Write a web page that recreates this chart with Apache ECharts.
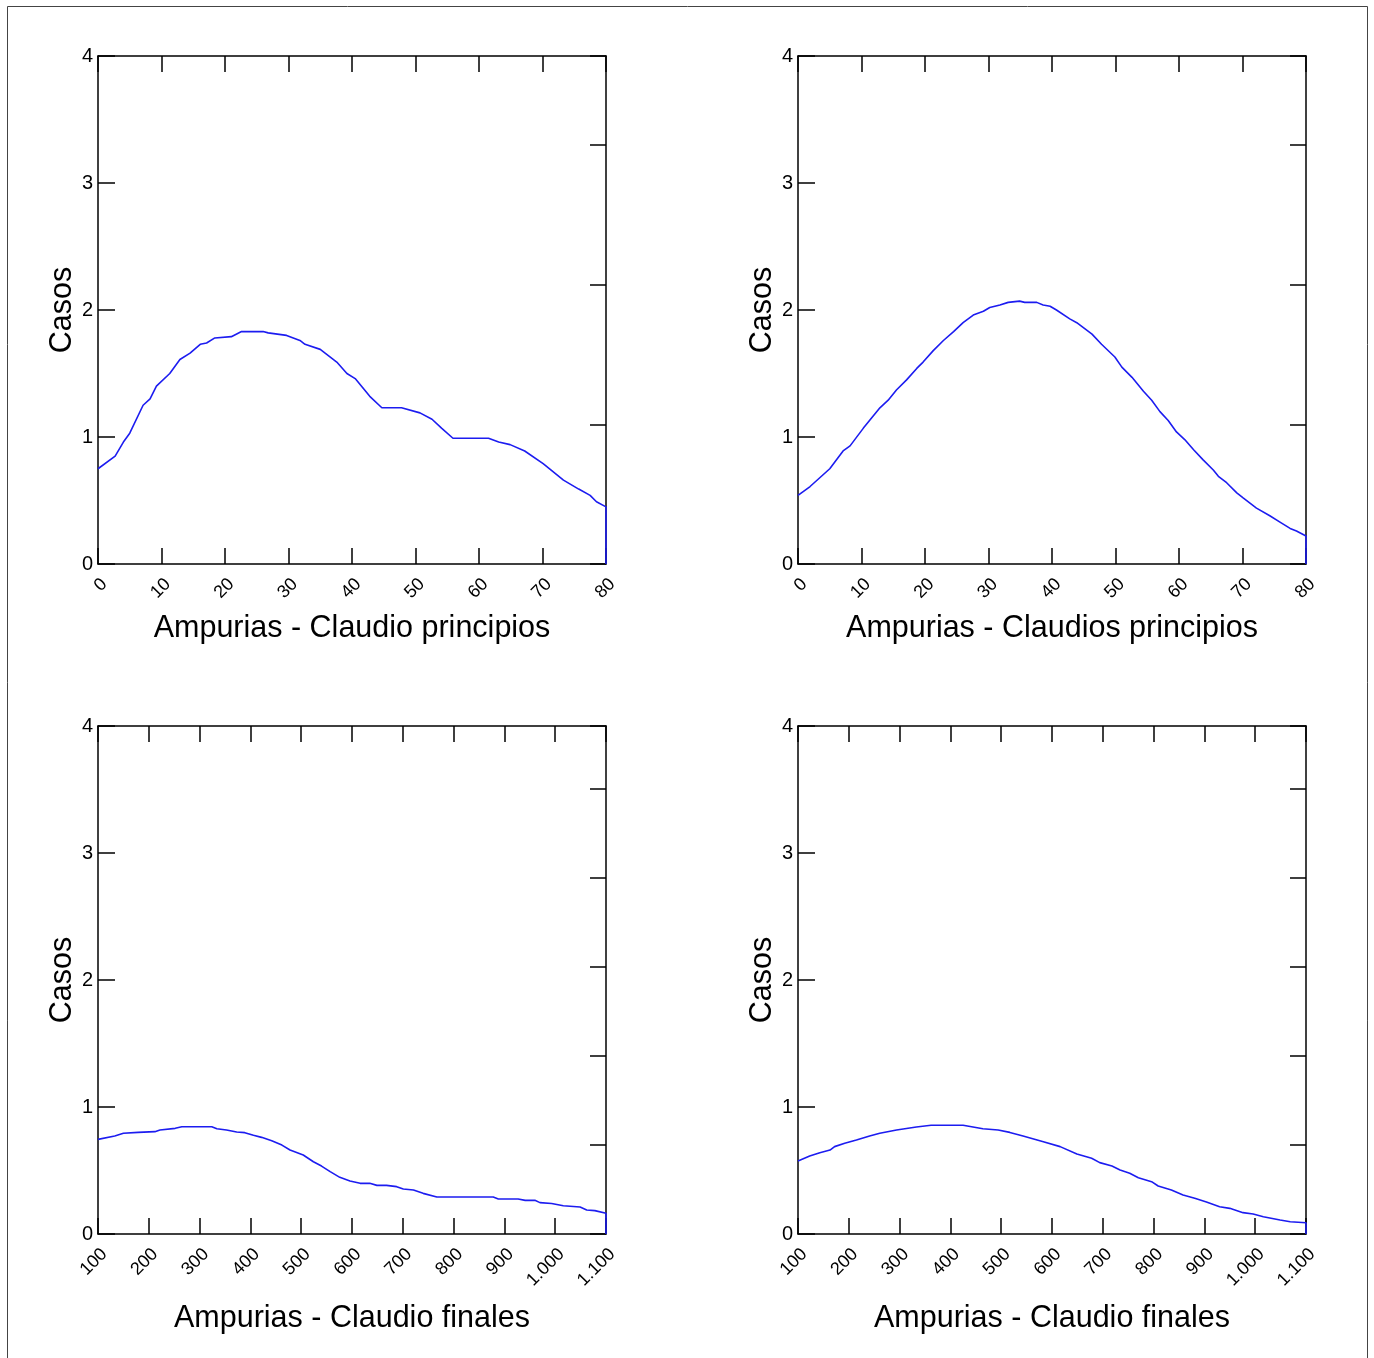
<!DOCTYPE html>
<html>
<head>
<meta charset="utf-8">
<script src="https://cdn.jsdelivr.net/npm/echarts@6/dist/echarts.min.js"></script>
<style>
html,body{margin:0;padding:0;background:#fff;}
#chart{width:1374px;height:1358px;}
</style>
</head>
<body>
<div id="chart"></div>
<script>
// ---- Data ----
const titles = ['Ampurias - Claudio principios', 'Ampurias - Claudios principios', 'Ampurias - Claudio finales', 'Ampurias - Claudio finales'];
const yName = 'Casos';

const topTicks = ['0','10','20','30','40','50','60','70','80'];
const bottomTicks = ['100','200','300','400','500','600','700','800','900','1.000','1.100'];

const tlX = [0, 2.7, 4.0, 5.0, 7.1, 8.2, 9.2, 11.3, 12.9, 14.5, 16.1, 17.1, 18.4, 21.0, 22.6, 26.0, 26.8, 29.7, 31.8, 32.6, 35.0, 37.6, 39.2, 40.5, 42.8, 44.7, 47.8, 50.7, 52.6, 54.1, 55.9, 61.5, 63.1, 64.9, 67.2, 70.1, 73.3, 75.7, 77.5, 78.5, 80, 80];
const tlY = [0.75, 0.85, 0.96, 1.03, 1.25, 1.30, 1.40, 1.50, 1.61, 1.66, 1.73, 1.74, 1.78, 1.79, 1.83, 1.83, 1.82, 1.80, 1.76, 1.73, 1.69, 1.59, 1.50, 1.46, 1.32, 1.23, 1.23, 1.19, 1.14, 1.07, 0.99, 0.99, 0.96, 0.94, 0.89, 0.79, 0.66, 0.59, 0.54, 0.49, 0.45, 0];

const trX = [0, 1.9, 5.0, 7.1, 8.2, 10.3, 12.9, 14.2, 15.5, 17.1, 18.7, 19.7, 21.3, 22.9, 24.5, 26.0, 27.6, 29.2, 30.2, 31.8, 33.1, 34.9, 35.7, 37.6, 38.6, 39.7, 40.7, 42.8, 43.9, 46.3, 47.8, 49.9, 51.0, 52.6, 54.4, 55.7, 57.0, 58.3, 59.6, 60.9, 62.3, 63.8, 65.4, 66.2, 67.5, 69.1, 70.1, 72.2, 74.3, 75.9, 77.5, 78.5, 80, 80];
const trY = [0.54, 0.61, 0.75, 0.89, 0.93, 1.07, 1.23, 1.29, 1.37, 1.45, 1.54, 1.59, 1.68, 1.76, 1.83, 1.90, 1.96, 1.99, 2.02, 2.04, 2.06, 2.07, 2.06, 2.06, 2.04, 2.03, 2.00, 1.93, 1.90, 1.81, 1.73, 1.63, 1.55, 1.47, 1.36, 1.29, 1.20, 1.13, 1.04, 0.98, 0.90, 0.82, 0.74, 0.69, 0.64, 0.56, 0.52, 0.44, 0.38, 0.33, 0.28, 0.26, 0.22, 0];

const blX = [100, 133, 150, 179, 212, 222, 252, 265, 324, 334, 353, 373, 389, 406, 422, 442, 462, 478, 504, 524, 540, 557, 576, 596, 616, 635, 649, 668, 688, 701, 721, 740, 767, 878, 888, 927, 941, 960, 970, 993, 1016, 1049, 1062, 1078, 1100, 1100];
const blY = [0.745, 0.772, 0.793, 0.80, 0.806, 0.819, 0.832, 0.845, 0.845, 0.829, 0.819, 0.803, 0.798, 0.777, 0.761, 0.735, 0.70, 0.661, 0.622, 0.569, 0.535, 0.491, 0.446, 0.417, 0.399, 0.399, 0.383, 0.383, 0.373, 0.354, 0.346, 0.32, 0.291, 0.291, 0.276, 0.276, 0.265, 0.265, 0.247, 0.24, 0.223, 0.213, 0.189, 0.184, 0.163, 0];

const brX = [100, 123, 143, 163, 172, 192, 215, 241, 261, 294, 333, 362, 425, 464, 494, 517, 543, 583, 616, 649, 678, 694, 718, 734, 753, 770, 796, 809, 835, 858, 881, 904, 930, 950, 976, 996, 1016, 1049, 1069, 1100, 1100];
const brY = [0.575, 0.614, 0.64, 0.661, 0.688, 0.714, 0.74, 0.772, 0.793, 0.819, 0.843, 0.856, 0.856, 0.829, 0.819, 0.80, 0.772, 0.727, 0.688, 0.63, 0.596, 0.562, 0.535, 0.504, 0.478, 0.443, 0.412, 0.378, 0.346, 0.307, 0.281, 0.252, 0.215, 0.202, 0.168, 0.157, 0.136, 0.11, 0.097, 0.089, 0];

// ---- Build option ----
const FONT = '"Liberation Sans", Arial, Helvetica, sans-serif';
const AX = {onZero: false, lineStyle: {color: '#000', width: 1.5}};
const TICK = {inside: true, length: 16, lineStyle: {color: '#000', width: 1.5}};
const grids = [
  {left: 98, top: 56, width: 508, height: 508},
  {left: 798, top: 56, width: 508, height: 508},
  {left: 98, top: 726, width: 508, height: 508},
  {left: 798, top: 726, width: 508, height: 508}
];
const panels = [
  {x: tlX, y: tlY, min: 0, max: 80, step: 10, labels: topTicks, rmax: 3.636, gap: 49},
  {x: trX, y: trY, min: 0, max: 80, step: 10, labels: topTicks, rmax: 3.636, gap: 49},
  {x: blX, y: blY, min: 100, max: 1100, step: 100, labels: bottomTicks, rmax: 5.71, gap: 69},
  {x: brX, y: brY, min: 100, max: 1100, step: 100, labels: bottomTicks, rmax: 5.71, gap: 69}
];

const xAxis = [], yAxis = [], series = [];
panels.forEach((p, i) => {
  xAxis.push({
    type: 'value', gridIndex: i, position: 'bottom', min: p.min, max: p.max, interval: p.step,
    name: titles[i], nameLocation: 'middle', nameGap: p.gap,
    nameTextStyle: {fontFamily: FONT, fontSize: 30.5, color: '#000'},
    axisLine: AX, axisTick: TICK,
    axisLabel: {rotate: 45, fontFamily: FONT, fontSize: 18, color: '#000', margin: 11,
      align: 'right', verticalAlign: 'top',
      showMinLabel: true, showMaxLabel: true,
      formatter: v => p.labels[Math.round((v - p.min) / p.step)]},
    splitLine: {show: false}
  });
  xAxis.push({
    type: 'value', gridIndex: i, position: 'top', min: p.min, max: p.max, interval: p.step,
    axisLine: AX, axisTick: TICK,
    axisLabel: {show: false}, splitLine: {show: false}
  });
  yAxis.push({
    type: 'value', gridIndex: i, position: 'left', min: 0, max: 4, interval: 1,
    name: yName, nameLocation: 'middle', nameGap: 19,
    nameTextStyle: {fontFamily: FONT, fontSize: 30.5, color: '#000'},
    axisLine: AX, axisTick: {inside: true, length: 17, lineStyle: {color: '#000', width: 1.5}},
    axisLabel: {fontFamily: FONT, fontSize: 20, color: '#000', margin: 5},
    splitLine: {show: false}
  });
  yAxis.push({
    type: 'value', gridIndex: i, position: 'right', min: 0, max: p.rmax, interval: 1,
    axisLine: AX, axisTick: TICK,
    axisLabel: {show: false}, splitLine: {show: false}
  });
  series.push({
    type: 'line', xAxisIndex: i * 2, yAxisIndex: i * 2,
    data: p.x.map((xv, k) => [xv, p.y[k]]),
    showSymbol: false, symbol: 'none', smooth: false, silent: true,
    lineStyle: {color: '#1c1cf0', width: 1.6}, z: 1
  });
});

const chart = echarts.init(document.getElementById('chart'), null, {renderer: 'canvas'});
chart.setOption({
  animation: false,
  backgroundColor: '#fff',
  grid: grids,
  xAxis: xAxis,
  yAxis: yAxis,
  series: series,
  graphic: [{
    type: 'rect', silent: true,
    shape: {x: 7.5, y: 6.5, width: 1360, height: 1360},
    style: {fill: 'none', stroke: '#444', lineWidth: 1}
  }]
});
</script>
</body>
</html>
